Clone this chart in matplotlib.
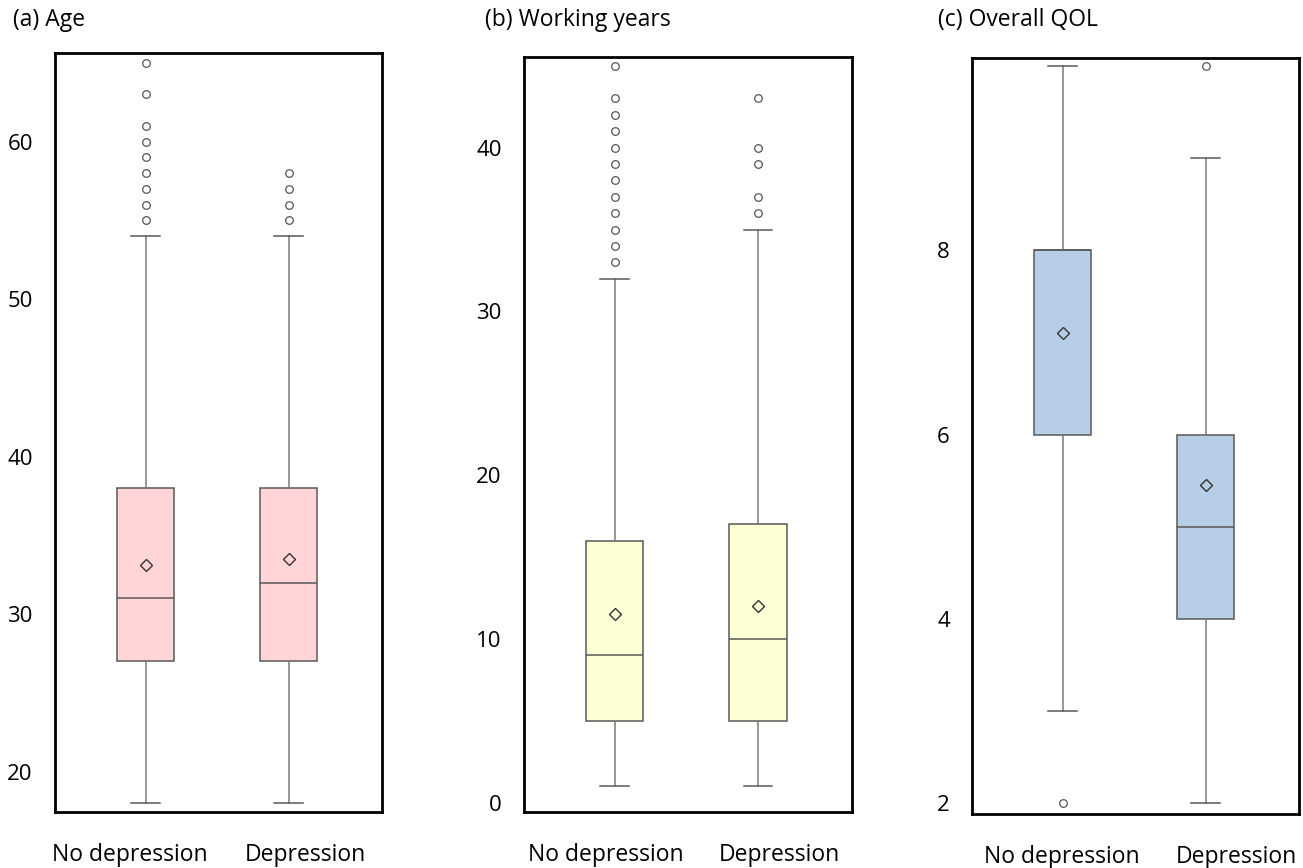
import matplotlib
matplotlib.use("Agg")
import matplotlib.pyplot as plt

plt.rcParams['font.family'] = ['Open Sans', 'DejaVu Sans']

groups = ['No depression', 'Depression']
titles = ['(a) Age', '(b) Working years', '(c) Overall QOL']

# values: [no depression, depression]
age_whislo = [18, 18]
age_q1 = [27, 27]
age_med = [31, 32]
age_q3 = [38, 38]
age_whishi = [54, 54]
age_mean = [33.1, 33.5]
age_fliers = [[55, 56, 57, 58, 59, 60, 61, 63, 65], [55, 56, 57, 58]]

work_whislo = [1, 1]
work_q1 = [5, 5]
work_med = [9, 10]
work_q3 = [16, 17]
work_whishi = [32, 35]
work_mean = [11.5, 12.0]
work_fliers = [[33, 34, 35, 36, 37, 38, 39, 40, 41, 42, 43, 45], [36, 37, 39, 40, 43]]

qol_whislo = [3, 2]
qol_q1 = [6, 4]
qol_med = [8, 5]
qol_q3 = [8, 6]
qol_whishi = [10, 9]
qol_mean = [7.1, 5.45]
qol_fliers = [[2], [10]]

panels = [
    (age_whislo, age_q1, age_med, age_q3, age_whishi, age_mean, age_fliers),
    (work_whislo, work_q1, work_med, work_q3, work_whishi, work_mean, work_fliers),
    (qol_whislo, qol_q1, qol_med, qol_q3, qol_whishi, qol_mean, qol_fliers),
]
fills = ['#ffd5d8', '#ffffd6', '#b8cee6']
yticks = [[20, 30, 40, 50, 60], [0, 10, 20, 30, 40], [2, 4, 6, 8]]
ylims = [(17.44, 65.63), (-0.56, 45.53), (1.88, 10.09)]
rects = [
    [0.0422, 0.0645, 0.2510, 0.8744],
    [0.4021, 0.0645, 0.2517, 0.8698],
    [0.7460, 0.0622, 0.2510, 0.8710],
]
# the category labels sit a little off the box centres in the original
label_pos = [[0.89, 2.115], [0.938, 2.151], [0.993, 2.214]]
title_x = [0.010, 0.372, 0.720]

fig = plt.figure(figsize=(13.03, 8.68), dpi=100)

for i, (lo, q1, med, q3, hi, mean, fl) in enumerate(panels):
    ax = fig.add_axes(rects[i])
    stats = []
    for j in range(2):
        stats.append(dict(whislo=lo[j], q1=q1[j], med=med[j], q3=q3[j],
                          whishi=hi[j], mean=mean[j], fliers=fl[j]))
    ax.bxp(stats, positions=[1, 2], widths=0.4, capwidths=0.2,
           showmeans=True, patch_artist=True, manage_ticks=False,
           boxprops=dict(facecolor=fills[i], edgecolor='#595959', linewidth=1.1),
           medianprops=dict(color='#595959', linewidth=1.1),
           whiskerprops=dict(color='#7a7a7a', linewidth=1.1),
           capprops=dict(color='#595959', linewidth=1.1),
           meanprops=dict(marker='D', markerfacecolor='none', markeredgecolor='#333333',
                          markersize=6, markeredgewidth=1.0),
           flierprops=dict(marker='o', markerfacecolor='none', markeredgecolor='#555555',
                           markersize=5.5, markeredgewidth=0.9))
    ax.set_xlim(0.366, 2.654)
    ax.set_ylim(*ylims[i])
    ax.set_yticks(yticks[i])
    ax.set_xticks(label_pos[i])
    ax.set_xticklabels(groups)
    ax.tick_params(axis='y', length=0, pad=16, labelsize=16)
    ax.tick_params(axis='x', length=0, pad=22, labelsize=16.5)
    for s in ax.spines.values():
        s.set_linewidth(2)
        s.set_color('black')
    fig.text(title_x[i], 0.977, titles[i], fontsize=16.5, va='center', ha='left')

fig.savefig('out.png', dpi=100)
